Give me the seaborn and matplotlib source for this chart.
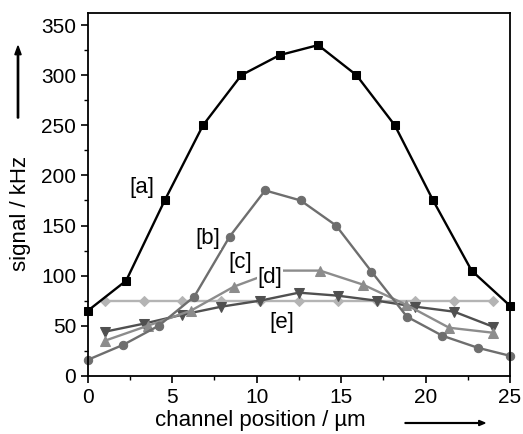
import matplotlib
matplotlib.use("Agg")
import numpy as np
import pandas as pd
import seaborn as sns
from matplotlib import pyplot as plt
from matplotlib.ticker import MultipleLocator

# 数据
x_a = [0, 2.27, 4.55, 6.82, 9.09, 11.36, 13.64, 15.91, 18.18, 20.45, 22.73, 25]
y_a = [65, 95, 175, 250, 300, 320, 330, 300, 250, 175, 105, 70]

x_b = [0, 2.1, 4.2, 6.3, 8.4, 10.5, 12.6, 14.7, 16.8, 18.9, 21.0, 23.1, 25]
y_b = [16, 31, 50, 79, 139, 185, 175, 150, 104, 59, 40, 28, 20]

x_c = [1, 3.55, 6.1, 8.65, 11.2, 13.75, 16.3, 18.85, 21.4, 24]
y_c = [35, 50, 65, 89, 105, 105, 91, 71, 48, 43]

x_d = [1, 3.3, 5.6, 7.9, 10.2, 12.5, 14.8, 17.1, 19.4, 21.7, 24]
y_d = [44, 52, 61, 69, 75, 83, 80, 75, 69, 64, 49]

x_e = [1, 3.3, 5.6, 7.9, 10.2, 12.5, 14.8, 17.1, 19.4, 21.7, 24]
y_e = [75, 75, 75, 75, 75, 75, 75, 75, 75, 75, 75]

names = ['[a]', '[b]', '[c]', '[d]', '[e]']
label_pos = [(3.2, 188), (7.1, 137), (9.0, 113), (10.8, 98), (11.5, 53)]

sns.set_style("ticks")
plt.rcParams['font.family'] = ['Liberation Sans', 'DejaVu Sans']
plt.rcParams['text.color'] = 'black'
plt.rcParams['axes.labelcolor'] = 'black'
plt.rcParams['axes.edgecolor'] = 'black'
plt.rcParams['xtick.color'] = 'black'
plt.rcParams['ytick.color'] = 'black'

fig = plt.figure(figsize=(5.23, 4.34), dpi=100)
ax = fig.add_axes([0.168, 0.134, 0.807, 0.836])

series = [
    (x_e, y_e, '#b4b4b4', 'D', 5),
    (x_d, y_d, '#505050', 'v', 6.5),
    (x_c, y_c, '#8c8c8c', '^', 6.5),
    (x_b, y_b, '#6e6e6e', 'o', 6),
    (x_a, y_a, '#000000', 's', 5.5),
]
for xs, ys, col, mk, ms in series:
    df = pd.DataFrame({'x': xs, 'y': ys})
    sns.lineplot(data=df, x='x', y='y', ax=ax, color=col, marker=mk,
                 markersize=ms, markeredgecolor=col, linewidth=1.7, clip_on=False)

for name, (tx, ty) in zip(names, label_pos):
    ax.text(tx, ty, name, fontsize=16, ha='center', va='center',
            bbox=dict(facecolor='white', edgecolor='none', pad=0.5))

ax.set_xlim(0, 25)
ax.set_ylim(0, 362)
ax.xaxis.set_major_locator(MultipleLocator(5))
ax.xaxis.set_minor_locator(MultipleLocator(2.5))
ax.yaxis.set_major_locator(MultipleLocator(50))
ax.yaxis.set_minor_locator(MultipleLocator(25))
ax.tick_params(which='both', direction='out', top=False, right=False, labelsize=15)
ax.tick_params(which='major', length=5, width=1.2)
ax.tick_params(which='minor', length=3, width=1.0)
for s in ax.spines.values():
    s.set_linewidth(1.3)
    s.set_visible(True)

ax.set_xlabel('channel position / µm', fontsize=16)
ax.set_ylabel('signal / kHz', fontsize=16)
ax.xaxis.set_label_coords((260 - 88) / 422, -0.095)
ax.yaxis.set_label_coords(-0.135, (375 - 213) / 363)

# 坐标轴箭头
fig.patches.append(matplotlib.patches.FancyArrow(
    405 / 523, 1 - 423 / 434, 80 / 523, 0, width=0.0018, head_width=0.012,
    head_length=0.012, color='black', transform=fig.transFigure, length_includes_head=True))
fig.patches.append(matplotlib.patches.FancyArrow(
    18 / 523, 1 - 118 / 434, 0, 72 / 434, width=0.0025, head_width=0.012,
    head_length=0.02, color='black', transform=fig.transFigure, length_includes_head=True))

plt.savefig('out.png', dpi=100)
